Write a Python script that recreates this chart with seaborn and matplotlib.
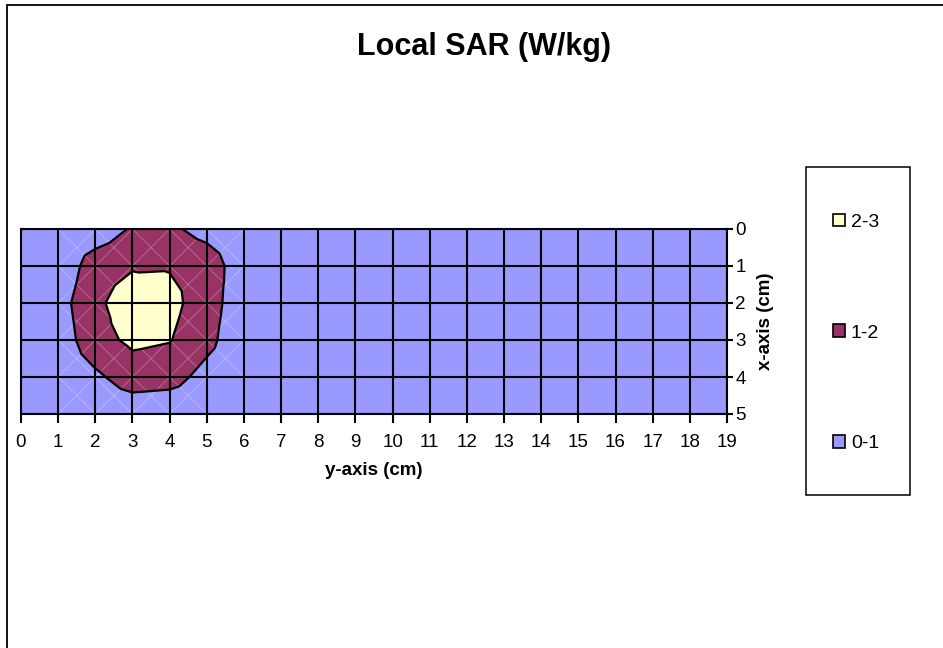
import numpy as np
import matplotlib
matplotlib.use("Agg")
import matplotlib.pyplot as plt
import matplotlib.tri as mtri
from matplotlib.patches import Patch, Rectangle
import seaborn as sns

# ---- data: local SAR (W/kg) on a 1 cm grid; rows = x-axis (cm) 0..5, columns = y-axis (cm) 0..19
y_cm = list(range(20))
x_cm = list(range(6))
sar_x0 = [0.10, 0.15, 0.30, 1.12, 1.21, 0.60, 0.25, 0.15, 0.10, 0.08, 0.06, 0.05, 0.04, 0.04, 0.03, 0.03, 0.02, 0.02, 0.02, 0.01]
sar_x1 = [0.10, 0.14, 1.60, 1.90, 1.93, 1.65, 0.30, 0.18, 0.12, 0.09, 0.07, 0.06, 0.05, 0.04, 0.03, 0.03, 0.02, 0.02, 0.02, 0.01]
sar_x2 = [0.15, 0.59, 1.77, 2.60, 2.30, 1.47, 0.35, 0.20, 0.13, 0.10, 0.08, 0.06, 0.05, 0.04, 0.04, 0.03, 0.03, 0.02, 0.02, 0.01]
sar_x3 = [0.10, 0.41, 1.64, 2.20, 2.05, 1.30, 0.25, 0.18, 0.12, 0.09, 0.07, 0.06, 0.05, 0.04, 0.03, 0.03, 0.02, 0.02, 0.02, 0.01]
sar_x4 = [0.10, 0.30, 0.81, 1.50, 1.40, 0.65, 0.25, 0.15, 0.10, 0.08, 0.06, 0.05, 0.04, 0.04, 0.03, 0.03, 0.02, 0.02, 0.02, 0.01]
sar_x5 = [0.05, 0.15, 0.25, 0.31, 0.22, 0.20, 0.10, 0.08, 0.06, 0.05, 0.04, 0.04, 0.03, 0.03, 0.02, 0.02, 0.02, 0.01, 0.01, 0.01]
levels = [0, 1, 2, 3]
band_labels = ["0-1", "1-2", "2-3"]
band_colors = ["#9999FF", "#993366", "#FFFFCC"]

# ---- style
sns.set_style("white")
plt.rcParams["font.family"] = ["Liberation Sans", "DejaVu Sans"]
plt.rcParams["text.color"] = "black"
plt.rcParams["axes.labelcolor"] = "black"
plt.rcParams["xtick.color"] = "black"
plt.rcParams["ytick.color"] = "black"

Z = np.array([sar_x0, sar_x1, sar_x2, sar_x3, sar_x4, sar_x5], dtype=float)
ny, nx = Z.shape
YY, XX = np.meshgrid(np.array(x_cm, float), np.array(y_cm, float), indexing="ij")

# Excel-style triangulation: each cell split into 4 triangles around its centre
cx = (XX[:-1, :-1] + XX[:-1, 1:]) / 2
cy = (YY[:-1, :-1] + YY[1:, :-1]) / 2
cz = (Z[:-1, :-1] + Z[:-1, 1:] + Z[1:, :-1] + Z[1:, 1:]) / 4
px = np.concatenate([XX.ravel(), cx.ravel()])
py = np.concatenate([YY.ravel(), cy.ravel()])
pz = np.concatenate([Z.ravel(), cz.ravel()])
N = nx * ny
tris = []
cellmax = []
for i in range(ny - 1):
    for j in range(nx - 1):
        a = i * nx + j
        b = a + 1
        c = (i + 1) * nx + j + 1
        d = (i + 1) * nx + j
        m = N + i * (nx - 1) + j
        cm_ = max(Z[i, j], Z[i, j + 1], Z[i + 1, j], Z[i + 1, j + 1])
        for t in [(a, b, m), (b, c, m), (c, d, m), (d, a, m)]:
            tris.append(t)
            cellmax.append(cm_)
tris = np.array(tris)
cellmax = np.array(cellmax)
tri = mtri.Triangulation(px, py, tris)
tri_faint = mtri.Triangulation(px, py, tris, mask=cellmax < 0.75)

fig = plt.figure(figsize=(9.43, 6.48), dpi=100)
W, H = 943, 648
ax = fig.add_axes([21 / W, 1 - 414 / H, (727 - 21) / W, (414 - 229) / H])

ax.tricontourf(tri, pz, levels=levels, colors=band_colors, zorder=1)
ax.triplot(tri_faint, color="white", alpha=0.3, lw=0.6, zorder=1.2)
ax.tricontour(tri, pz, levels=levels[1:-1], colors="black", linewidths=1.6, zorder=2)

ax.set_xlim(0, 19)
ax.set_ylim(5, 0)
ax.set_xticks(y_cm)
ax.set_yticks(x_cm)
ax.yaxis.tick_right()
ax.yaxis.set_label_position("right")
ax.set_axisbelow(False)
ax.grid(True, color="black", lw=1.5)
for s in ax.spines.values():
    s.set_color("black")
    s.set_linewidth(1.5)
ax.tick_params(axis="x", direction="out", length=6.5, width=1.5, color="black",
               labelsize=13.5, pad=8, bottom=True)
ax.tick_params(axis="y", direction="out", length=4.5, width=1.5, color="black",
               labelsize=13.5, pad=1.5, right=True, left=False)
ax.set_xlabel("y-axis (cm)", fontsize=13.5, fontweight="bold", labelpad=8)
ax.set_ylabel("x-axis (cm)", fontsize=13.5, fontweight="bold", labelpad=8)

fig.text(484 / W, 1 - 47 / H, "Local SAR (W/kg)", ha="center", va="center",
         fontsize=22, fontweight="bold")

# legend
handles = [Patch(facecolor=c, edgecolor="black", linewidth=1.2) for c in band_colors[::-1]]
fig.legend(handles, band_labels[::-1], loc="center left",
           bbox_to_anchor=(833 / W, 1 - 333 / H), frameon=False, fontsize=14,
           labelspacing=4.82, handlelength=0.62, handleheight=0.62,
           handletextpad=0.3, borderpad=0, borderaxespad=0)
fig.patches.append(Rectangle((806 / W, 1 - 495 / H), 104 / W, 328 / H,
                             transform=fig.transFigure, fill=False,
                             edgecolor="black", linewidth=1.1))
# chart-area border (extends past right and bottom edges)
fig.patches.append(Rectangle((7 / W, -0.5), 2.0, 1.5 - 5 / H,
                             transform=fig.transFigure, fill=False,
                             edgecolor="black", linewidth=1.3))

fig.savefig("out.png", dpi=100)
